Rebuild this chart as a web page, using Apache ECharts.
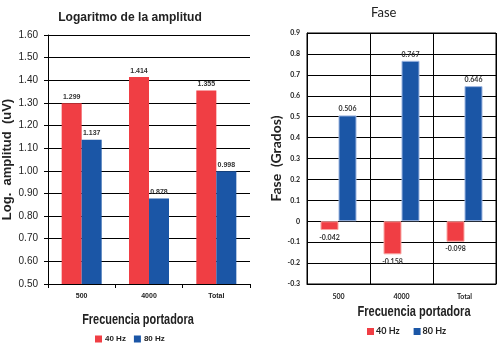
<!DOCTYPE html>
<html>
<head>
<meta charset="utf-8">
<script src="https://cdn.jsdelivr.net/npm/echarts@6/dist/echarts.min.js"></script>
<style>
html,body{margin:0;padding:0;background:#fff;}
#c{width:497px;height:345px;}
</style>
</head>
<body>
<div id="c"></div>
<script>
var categories = ['500', '4000', 'Total'];
var seriesNames = ['40 Hz', '80 Hz'];
var amp40 = [1.299, 1.414, 1.355];
var amp80 = [1.137, 0.878, 0.998];
var fase40 = [-0.042, -0.158, -0.098];
var fase80 = [0.506, 0.767, 0.646];

var RED = '#F03E44', BLUE = '#1B56A6';
var SANS = '"Liberation Sans", Arial, sans-serif';
var CAL = 'Lato, "Open Sans", sans-serif';

var chart = echarts.init(document.getElementById('c'), null, {renderer: 'canvas'});

function fmtFase(v) {
  var r = Math.round(v * 10) / 10;
  if (r === 0) return '0';
  return r.toFixed(1);
}

function condensed(text, cx, cy, size, sx) {
  return {type: 'text', x: cx, y: cy, scaleX: sx, silent: true,
    style: {text: text, fontFamily: SANS, fontWeight: 'bold', fontSize: size, fill: '#222',
      align: 'center', verticalAlign: 'middle', textAlign: 'center', textVerticalAlign: 'middle'}};
}

var labelL = {show: true, position: 'top', distance: 3, fontSize: 7, fontWeight: 'bold', color: '#333', fontFamily: SANS,
  formatter: function (p) { return p.value.toFixed(3); }};
var labelR = {show: true, position: 'top', distance: 3, fontSize: 7, fontWeight: 'bold', color: '#333', fontFamily: CAL,
  formatter: function (p) { return p.value.toFixed(3); }};
var labelRneg = {show: true, position: 'bottom', distance: 4, fontSize: 7, fontWeight: 'bold', color: '#333', fontFamily: CAL,
  formatter: function (p) { return p.value.toFixed(3); }};

chart.setOption({
  animation: false,
  title: [
    {text: 'Fase', left: 366, top: 1,
      textStyle: {fontFamily: CAL, fontWeight: 'normal', fontSize: 13, color: '#222'}}
  ],
  graphic: [
    condensed('Logaritmo de la amplitud', 130, 17, 13, 0.93),
    condensed('Frecuencia portadora', 138, 320, 14, 0.78),
    condensed('Frecuencia portadora', 414, 312, 14, 0.79)
  ],
  legend: [
    {data: seriesNames, left: 90, top: 330, itemWidth: 7, itemHeight: 7, itemGap: 8, icon: 'rect',
      textStyle: {fontFamily: SANS, fontWeight: 'bold', fontSize: 8, color: '#222', padding: [0, 0, 0, -2]}},
    {data: seriesNames, left: 362, top: 322, itemWidth: 7, itemHeight: 7, itemGap: 14, icon: 'rect',
      textStyle: {fontFamily: CAL, fontWeight: 'bold', fontSize: 9, color: '#222', padding: [0, 0, 0, -3]}}
  ],
  grid: [
    {left: 47, right: 247, top: 35, bottom: 61},
    {left: 307, right: 1, top: 33, bottom: 61, show: true, borderColor: '#000', borderWidth: 1}
  ],
  xAxis: [
    {type: 'category', gridIndex: 0, data: categories,
      axisLine: {lineStyle: {color: '#000'}},
      axisTick: {show: true, length: 4, lineStyle: {color: '#000'}},
      axisLabel: {fontSize: 7, fontWeight: 'bold', color: '#222', margin: 9, fontFamily: SANS}},
    {type: 'category', gridIndex: 1, data: categories,
      axisLine: {onZero: false, lineStyle: {color: '#000'}},
      axisTick: {show: false},
      splitLine: {show: true, lineStyle: {color: '#000', width: 1}},
      axisLabel: {fontSize: 7, fontWeight: 'bold', color: '#222', margin: 9, fontFamily: CAL}}
  ],
  yAxis: [
    {type: 'value', gridIndex: 0, min: 0.5, max: 1.6, interval: 0.1,
      axisLine: {show: true, lineStyle: {color: '#000'}},
      axisTick: {show: true, length: 4, lineStyle: {color: '#000'}},
      splitLine: {show: true, lineStyle: {color: '#000', width: 1}},
      axisLabel: {fontSize: 10, color: '#222', margin: 10, fontFamily: SANS,
        formatter: function (v) { return (Math.round(v * 100) / 100).toFixed(2); }},
      name: 'Log.  amplitud  (uV)', nameLocation: 'middle', nameGap: 34,
      nameTextStyle: {fontFamily: SANS, fontWeight: 'bold', fontSize: 13, color: '#222'}},
    {type: 'value', gridIndex: 1, min: -0.3, max: 0.9, interval: 0.1,
      axisLine: {show: true, lineStyle: {color: '#000'}},
      axisTick: {show: false},
      splitLine: {show: true, lineStyle: {color: '#000', width: 1}},
      axisLabel: {fontSize: 7, fontWeight: 'bold', color: '#222', margin: 7, fontFamily: CAL, formatter: fmtFase},
      name: 'Fase  (Grados)', nameLocation: 'middle', nameGap: 20,
      nameTextStyle: {fontFamily: CAL, fontWeight: 'bold', fontSize: 14, color: '#222'}}
  ],
  series: [
    {name: seriesNames[0], type: 'bar', xAxisIndex: 0, yAxisIndex: 0, data: amp40, barWidth: 20, barGap: '0%',
      itemStyle: {color: RED}, label: labelL},
    {name: seriesNames[1], type: 'bar', xAxisIndex: 0, yAxisIndex: 0, data: amp80, barWidth: 20, barGap: '0%',
      itemStyle: {color: BLUE}, label: labelL},
    {name: seriesNames[0], type: 'bar', xAxisIndex: 1, yAxisIndex: 1, data: fase40, barWidth: 18, barGap: '0%',
      itemStyle: {color: RED, borderColor: '#F9A7A3', borderWidth: 1}, label: labelRneg},
    {name: seriesNames[1], type: 'bar', xAxisIndex: 1, yAxisIndex: 1, data: fase80, barWidth: 18, barGap: '0%',
      itemStyle: {color: BLUE, borderColor: '#9DB5E0', borderWidth: 1}, label: labelR}
  ]
});
</script>
</body>
</html>
